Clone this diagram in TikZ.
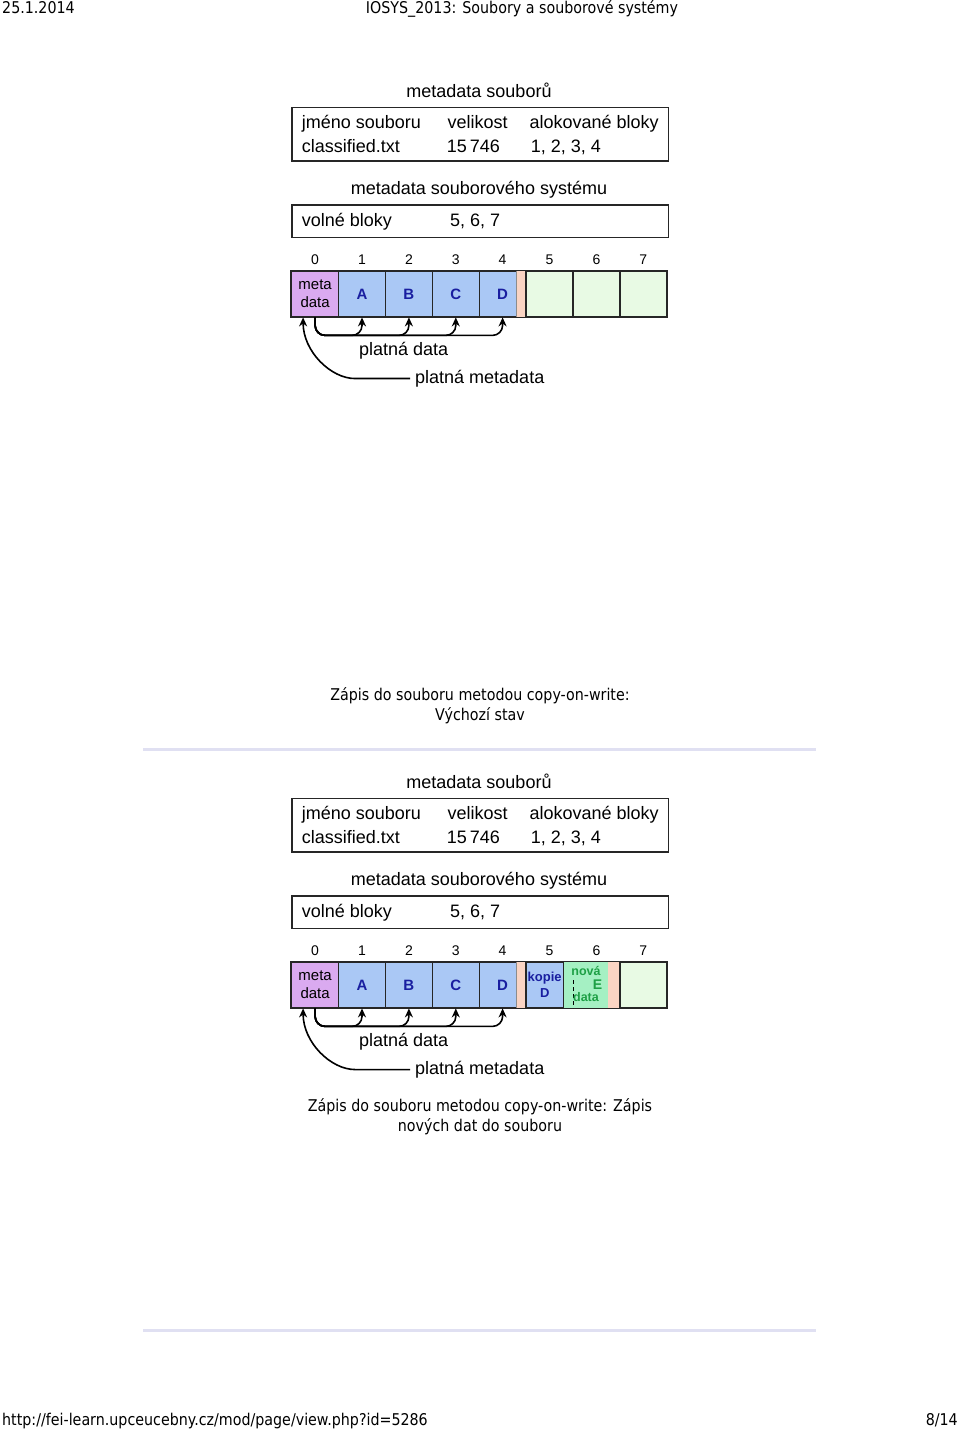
\documentclass[tikz,border=0pt]{standalone}
\usepackage{fontspec}
\setmainfont{Liberation Sans}
\newfontfamily\pagefont[FakeStretch=0.88]{DejaVu Sans}
\definecolor{cowmeta}{RGB}{218,170,240}
\definecolor{cowused}{RGB}{170,200,245}
\definecolor{cowpad}{RGB}{250,212,195}
\definecolor{cowfree}{RGB}{232,250,228}
\definecolor{cownew}{RGB}{165,240,195}
\definecolor{cowletter}{RGB}{25,30,160}
\definecolor{cowgreen}{RGB}{30,160,70}
\definecolor{cowrule}{RGB}{224,224,242}
\usetikzlibrary{arrows.meta}
\tikzset{
  pagetext/.style={font=\pagefont\fontsize{16.2}{19}\selectfont, inner sep=0pt},
  boxtitle/.style={font=\fontsize{18}{21}\selectfont, inner sep=0pt, anchor=base},
  boxtext/.style={font=\fontsize{18}{21}\selectfont, inner sep=0pt, anchor=base west},
  labeltext/.style={font=\fontsize{18}{21}\selectfont, inner sep=0pt, anchor=base west},
  metabox/.style={draw=black!85, line width=1.6pt, minimum width=376.6pt, inner sep=0pt},
  blockidx/.style={font=\fontsize{14}{16}\selectfont, inner sep=0pt, anchor=base},
  cell/.style={draw=black!85, line width=1.3pt, minimum width=46.9pt, minimum height=45.7pt, inner sep=0pt, font=\fontsize{15}{18.3}\selectfont},
  usedcell/.style={cell, fill=cowused, text=cowletter, font=\bfseries\fontsize{15}{18}\selectfont},
  freecell/.style={cell, fill=cowfree},
  strip/.style={inner sep=0pt, outer sep=0pt, minimum height=45.7pt},
  frame/.style={draw=black!85, line width=1.3pt},
  newtext/.style={font=\bfseries\fontsize{12.5}{15}\selectfont, inner sep=0pt, anchor=base, text=cowgreen},
  link/.style={-{Stealth[length=9pt,width=8pt]}, line width=1.6pt, rounded corners=10pt},
  rule/.style={cowrule, line width=2.5pt}
}

\begin{document}
\begin{tikzpicture}[x=1pt,y=1pt]
  \useasboundingbox (0,0) rectangle (960,-1430);
  \fill[white] (0,0) rectangle (960,-1430);

  % Page header and footer
  \node[pagetext, anchor=base west] (date) at (2,-13) {25.1.2014};
  \node[pagetext, anchor=base] (course) at (522,-13) {IOSYS\_2013: Soubory a souborové systémy};
  \node[pagetext, anchor=base west] (url) at (2,-1425) {http://fei-learn.upceucebny.cz/mod/page/view.php?id=5286};
  \node[pagetext, anchor=base east] (pageno) at (958,-1425) {8/14};

  % Initial state: file metadata
  \node[boxtitle] (ftitle) at (479,-97.7) {metadata souborů};
  \node[metabox, minimum height=53.4pt] (fbox) at (480,-134) {};
  \node[boxtext] (fname) at (301.7,-128) {jméno souboru};
  \node[boxtext] (fsize) at (447.3,-128) {velikost};
  \node[boxtext] (fblocks) at (529.3,-128) {alokované bloky};
  \node[boxtext] (fnameval) at (301.7,-152) {classified.txt};
  \node[boxtext] (fsizeval) at (446.7,-152) {15\,746};
  \node[boxtext] (fblocksval) at (530.7,-152) {1, 2, 3, 4};

  % File system metadata
  \node[boxtitle] (stitle) at (479,-194.3) {metadata souborového systému};
  \node[metabox, minimum height=32.3pt] (sbox) at (480,-221.2) {};
  \node[boxtext] (sfree) at (301.7,-226.7) {volné bloky};
  \node[boxtext] (sfreeval) at (450,-226.7) {5, 6, 7};

  % Block numbers
  \node[blockidx] (idx0) at (315.1,-264) {0}; \node[blockidx] (idx1) at (362,-264) {1};
  \node[blockidx] (idx2) at (408.9,-264) {2}; \node[blockidx] (idx3) at (455.8,-264) {3};
  \node[blockidx] (idx4) at (502.6,-264) {4}; \node[blockidx] (idx5) at (549.5,-264) {5};
  \node[blockidx] (idx6) at (596.4,-264) {6}; \node[blockidx] (idx7) at (643.3,-264) {7};

  % Blocks
  \node[cell, fill=cowmeta, align=center] (blk0) at (315.1,-293.9) {meta\\data};
  \node[usedcell] (blk1) at (362,-293.9) {A};
  \node[usedcell] (blk2) at (408.9,-293.9) {B};
  \node[usedcell] (blk3) at (455.8,-293.9) {C};
  \node[usedcell] (blk4) at (502.6,-293.9) {D};
  \node[strip, fill=cowpad, minimum width=9.4pt] (pad) at (521.4,-293.9) {};
  \draw[black!45, line width=0.6pt] (pad.north west) -- (pad.south west);
  \node[freecell] (blk5) at (549.5,-293.9) {};
  \node[freecell] (blk6) at (596.4,-293.9) {};
  \node[freecell] (blk7) at (643.3,-293.9) {};
  \draw[frame] (blk0.north west) rectangle (blk7.south east);

  % Pointers
  \draw[link] (blk0.south) |- ([yshift=-18pt]blk1.south) -- (blk1.south);
  \draw[link] (blk0.south) |- ([yshift=-18pt]blk2.south) -- (blk2.south);
  \draw[link] (blk0.south) |- ([yshift=-18pt]blk3.south) -- (blk3.south);
  \draw[link] (blk0.south) |- ([yshift=-18pt]blk4.south) -- (blk4.south);
  \node[labeltext] (pdata) at (359,-355.7) {platná data};
  \node[labeltext, inner xsep=5pt] (pmeta) at (410,-383.3) {platná metadata};
  \draw[link] (pmeta.west) -- ++(-45,0) to[out=180,in=-90] ([xshift=-12pt]blk0.south);

  \node[pagetext, anchor=base] (cap1a) at (480,-700.5) {Zápis do souboru metodou copy-on-write:};
  \node[pagetext, anchor=base] (cap1b) at (480,-720.5) {Výchozí stav};
  \draw[rule] (143,-749.5) -- (816,-749.5);

  % After writing new data
  \begin{scope}[yshift=-691pt]
  \node[boxtitle] (ftitlew) at (479,-97.7) {metadata souborů};
  \node[metabox, minimum height=53.4pt] (fboxw) at (480,-134) {};
  \node[boxtext] (fnamew) at (301.7,-128) {jméno souboru};
  \node[boxtext] (fsizew) at (447.3,-128) {velikost};
  \node[boxtext] (fblocksw) at (529.3,-128) {alokované bloky};
  \node[boxtext] (fnamevalw) at (301.7,-152) {classified.txt};
  \node[boxtext] (fsizevalw) at (446.7,-152) {15\,746};
  \node[boxtext] (fblocksvalw) at (530.7,-152) {1, 2, 3, 4};

  \node[boxtitle] (stitlew) at (479,-194.3) {metadata souborového systému};
  \node[metabox, minimum height=32.3pt] (sboxw) at (480,-221.2) {};
  \node[boxtext] (sfreew) at (301.7,-226.7) {volné bloky};
  \node[boxtext] (sfreevalw) at (450,-226.7) {5, 6, 7};

  \node[blockidx] (idxw0) at (315.1,-264) {0}; \node[blockidx] (idxw1) at (362,-264) {1};
  \node[blockidx] (idxw2) at (408.9,-264) {2}; \node[blockidx] (idxw3) at (455.8,-264) {3};
  \node[blockidx] (idxw4) at (502.6,-264) {4}; \node[blockidx] (idxw5) at (549.5,-264) {5};
  \node[blockidx] (idxw6) at (596.4,-264) {6}; \node[blockidx] (idxw7) at (643.3,-264) {7};

  \node[cell, fill=cowmeta, align=center] (blkw0) at (315.1,-293.9) {meta\\data};
  \node[usedcell] (blkw1) at (362,-293.9) {A};
  \node[usedcell] (blkw2) at (408.9,-293.9) {B};
  \node[usedcell] (blkw3) at (455.8,-293.9) {C};
  \node[usedcell] (blkw4) at (502.6,-293.9) {D};
  \node[strip, fill=cowpad, minimum width=9.4pt] (padw) at (521.4,-293.9) {};
  \draw[black!45, line width=0.6pt] (padw.north west) -- (padw.south west);
  \node[usedcell, minimum width=37.2pt, align=center, font=\bfseries\fontsize{13}{15.7}\selectfont] (copyw) at (544.7,-293.9) {kopie\\D};
  \node[strip, fill=cownew, minimum width=44.3pt] (neww) at (586.3,-293.9) {};
  \node[strip, fill=cowpad, minimum width=11.4pt] (padw2) at (614.1,-293.9) {};
  \node[freecell] (blkw7) at (643.3,-293.9) {};
  \draw[frame] (blkw0.north west) rectangle (blkw7.south east);
  \draw[black, line width=1.2pt, dash pattern=on 4pt off 3pt] (573.3,-289) -- (573.3,-317);
  \node[newtext] (novaw) at (586,-284) {nová};
  \node[newtext] (dataw) at (586,-310) {data};
  \node[newtext, font=\bfseries\fontsize{14}{16}\selectfont, anchor=center] (ew) at (597.5,-293.5) {E};

  \draw[link] (blkw0.south) |- ([yshift=-18pt]blkw1.south) -- (blkw1.south);
  \draw[link] (blkw0.south) |- ([yshift=-18pt]blkw2.south) -- (blkw2.south);
  \draw[link] (blkw0.south) |- ([yshift=-18pt]blkw3.south) -- (blkw3.south);
  \draw[link] (blkw0.south) |- ([yshift=-18pt]blkw4.south) -- (blkw4.south);
  \node[labeltext] (pdataw) at (359,-355.7) {platná data};
  \node[labeltext, inner xsep=5pt] (pmetaw) at (410,-383.3) {platná metadata};
  \draw[link] (pmetaw.west) -- ++(-45,0) to[out=180,in=-90] ([xshift=-12pt]blkw0.south);
  \end{scope}

  \node[pagetext, anchor=base] (cap2a) at (480,-1111.5) {Zápis do souboru metodou copy-on-write: Zápis};
  \node[pagetext, anchor=base] (cap2b) at (480,-1131.5) {nových dat do souboru};
  \draw[rule] (143,-1330.5) -- (816,-1330.5);
\end{tikzpicture}
\end{document}
